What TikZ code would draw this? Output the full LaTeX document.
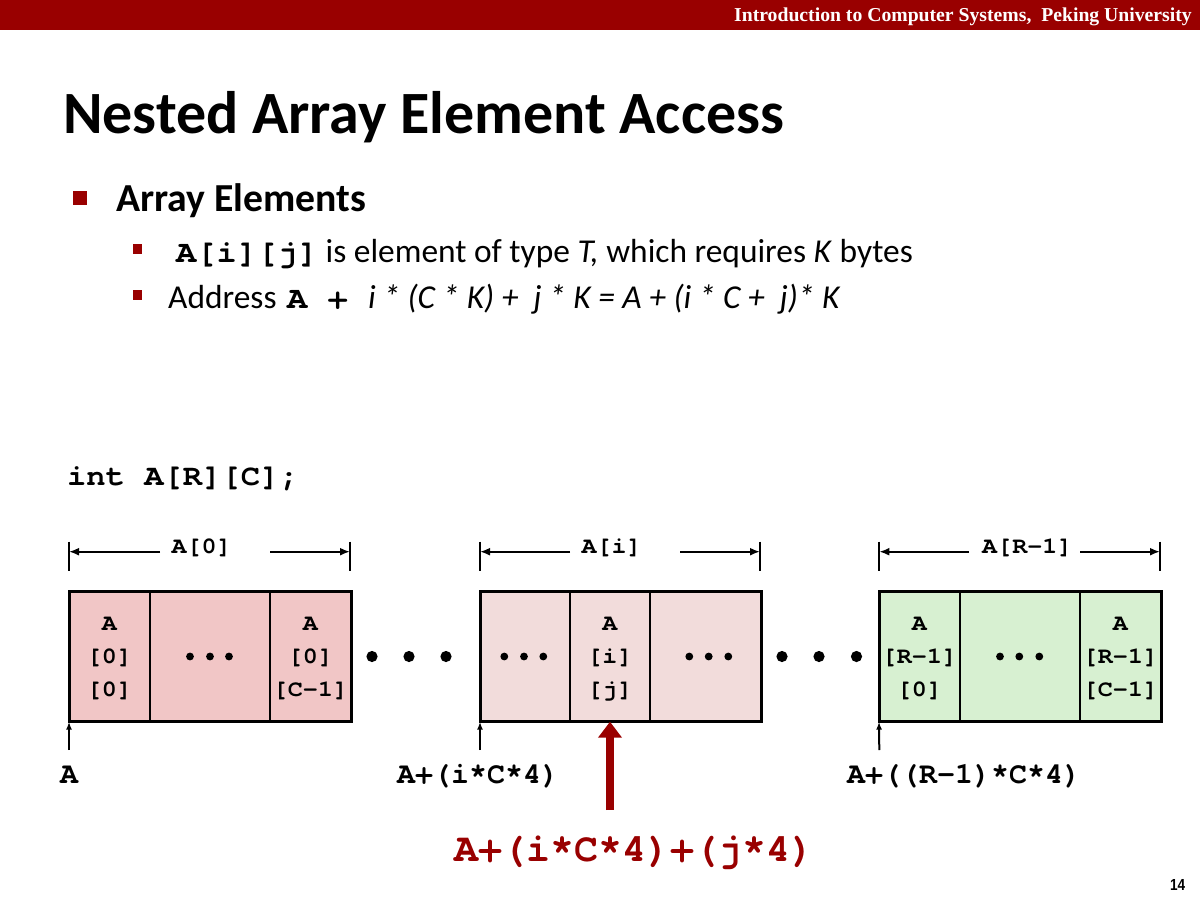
\documentclass[tikz,border=0pt]{standalone}
\usepackage{fontspec}
\setmainfont{Carlito}
\newfontfamily\hdrfont{Liberation Serif}
\newfontfamily\cur{texgyrecursor-bold.otf}
\newfontfamily\curS{texgyrecursor-bold.otf}[FakeStretch=1.09]
\newfontfamily\numfont{Liberation Sans}[FakeStretch=0.85]
\usetikzlibrary{arrows.meta}
\definecolor{cmured}{HTML}{990000}
\definecolor{rowA}{HTML}{F1C6C6}
\definecolor{rowB}{HTML}{F2DCDB}
\definecolor{rowC}{HTML}{D7F0D1}
\begin{document}
\begin{tikzpicture}[x=1pt,y=-1pt,
  cellbox/.style={draw=black,line width=2pt,anchor=north west,minimum height=130.7pt,inner sep=0pt,outer sep=0pt},
  celltext/.style={font=\curS\fontsize{23}{33}\selectfont,align=center,inner sep=0pt,anchor=north},
  dimlabel/.style={font=\curS\fontsize{23}{27}\selectfont,inner sep=0pt,anchor=base},
  dimtick/.style={line width=2.2pt},
  dimline/.style={line width=2.2pt,-{Latex[length=10pt,width=8pt]}},
  uparrow/.style={line width=2pt,-{Latex[length=8pt,width=6pt]}},
  addrlabel/.style={font=\cur\fontsize{30}{36}\selectfont,inner sep=0pt,anchor=base west},
  bigdot/.style={fill=black},
  bodytext/.style={font=\fontsize{33.4}{40}\selectfont,inner sep=0pt,anchor=base west}
]
\useasboundingbox (0,0) rectangle (1200,900);
\fill[white] (0,0) rectangle (1200,900);
% header
\fill[cmured] (0,0) rectangle (1200,29.5);
\node[font=\hdrfont\bfseries\fontsize{19.7}{24}\selectfont,text=white,inner sep=0pt,anchor=base east] (hdr) at (1192,21) {Introduction to Computer Systems,\ \ Peking University};
% title
\node[font=\bfseries\fontsize{60}{70}\selectfont,inner sep=0pt,anchor=base west] (title) at (63,133) {Nested Array Element Access};
% level 1
\fill[cmured] (73,191) rectangle (87,205);
\node[font=\bfseries\fontsize{39.7}{46}\selectfont,inner sep=0pt,anchor=base west] (lvl1) at (116,211) {Array Elements};
% level 2
\fill[cmured] (133,244) rectangle (142,254);
\node[bodytext] (b1) at (176,262) {{\curS\fontsize{31}{36}\selectfont A[i][j]} is element of type \textit{T,} which requires \textit{K} bytes};
\fill[cmured] (133,290) rectangle (142,300);
\node[bodytext] (b2) at (168,308) {Address\hspace{3pt} {\curS\fontsize{31}{36}\selectfont A + }\textit{i * (C * K) + \ j * K = A + (i * C + \ j)* K}};
% declaration
\node[font=\curS\fontsize{29.5}{34}\selectfont,inner sep=0pt,anchor=base west] (decl) at (67,485.3) {int A[R][C];};
% row 0
\node[cellbox,fill=rowA,minimum width=81pt] (c00) at (69,591) {};
\node[cellbox,fill=rowA,minimum width=120pt] (c01) at (150,591) {};
\node[cellbox,fill=rowA,minimum width=81pt] (c02) at (270,591) {};
\draw[line width=3pt] (c00.north west) rectangle (c02.south east);
% row i
\node[cellbox,fill=rowB,minimum width=90pt] (c10) at (480,591) {};
\node[cellbox,fill=rowB,minimum width=80pt] (c11) at (570,591) {};
\node[cellbox,fill=rowB,minimum width=111pt] (c12) at (650,591) {};
\draw[line width=3pt] (c10.north west) rectangle (c12.south east);
% row R-1
\node[cellbox,fill=rowC,minimum width=81pt] (c20) at (879,591) {};
\node[cellbox,fill=rowC,minimum width=120pt] (c21) at (960,591) {};
\node[cellbox,fill=rowC,minimum width=81pt] (c22) at (1080,591) {};
\draw[line width=3pt] (c20.north west) rectangle (c22.south east);
% cell texts
\node[celltext] (t00) at (109.5,617) {A\\{[0]}\\{[0]}};
\node[celltext] (t02) at (310.5,617) {A\\{[0]}\\{[C-1]}};
\node[celltext] (t11) at (610,617) {A\\{[i]}\\{[j]}};
\node[celltext] (t20) at (919.5,617) {A\\{[R-1]}\\{[0]}};
\node[celltext] (t22) at (1120.5,617) {A\\{[R-1]}\\{[C-1]}};
% small dots inside cells
\foreach \x in {190,210,229,504.3,524,543.3,689.3,708.7,728.3,1000,1019.3,1039.3}
  \fill (\x,656.5) circle[radius=3.9pt];
% big dots between rows
\foreach \x in {372,409,446,782,819,856.5}
  \fill[bigdot] (\x,656.5) circle[radius=5.6pt];
% dimension markers
\coordinate (k0l) at (69,551.7);  \coordinate (k0a) at (160,551.7);
\coordinate (k0b) at (270,551.7); \coordinate (k0r) at (350,551.7);
\coordinate (k1l) at (480,551.7); \coordinate (k1a) at (570,551.7);
\coordinate (k1b) at (680,551.7); \coordinate (k1r) at (760,551.7);
\coordinate (k2l) at (879.3,551.7); \coordinate (k2a) at (969,551.7);
\coordinate (k2b) at (1080,551.7);  \coordinate (k2r) at (1160,551.7);
\foreach \k in {0,1,2} {
  \draw[dimtick] ([yshift=10pt]k\k l) -- ([yshift=-19.3pt]k\k l);
  \draw[dimtick] ([yshift=10pt]k\k r) -- ([yshift=-19.3pt]k\k r);
  \draw[dimline] (k\k a) -- (k\k l);
  \draw[dimline] (k\k b) -- (k\k r);
}
\node[dimlabel] (d0) at (201.7,553.5) {A[0]};
\node[dimlabel] (d1) at (611.7,553.5) {A[i]};
\node[dimlabel] (d2) at (1027.3,553.5) {A[R-1]};
% address pointers
\coordinate (p0) at (69,750);
\coordinate (p1) at (480,750);
\coordinate (p2) at (879.3,750);
\draw[uparrow] (p0) -- (c00.south west);
\draw[uparrow] (p1) -- (c10.south west);
\draw[uparrow] (p2) -- (c20.south west);
\node[addrlabel,anchor=base] (a0) at (69,783.3) {A};
\node[addrlabel] (a1) at (397,783.3) {A+(i*C*4)};
\node[addrlabel] (a2) at (847,783.3) {A+((R-1)*C*4)};
% red pointer
\coordinate (pr) at (610,810);
\draw[cmured,line width=8pt,-{Triangle[length=16pt,width=23pt]}] (pr) -- (c11.south);
\node[font=\cur\fontsize{40}{48}\selectfont,text=cmured,inner sep=0pt,anchor=base west] (red) at (454,861.7) {A+(i*C*4)+(j*4)};
% page number
\node[font=\numfont\bfseries\fontsize{16}{19}\selectfont,inner sep=0pt,anchor=base east] (pg) at (1185.5,890) {14};
\end{tikzpicture}
\end{document}
